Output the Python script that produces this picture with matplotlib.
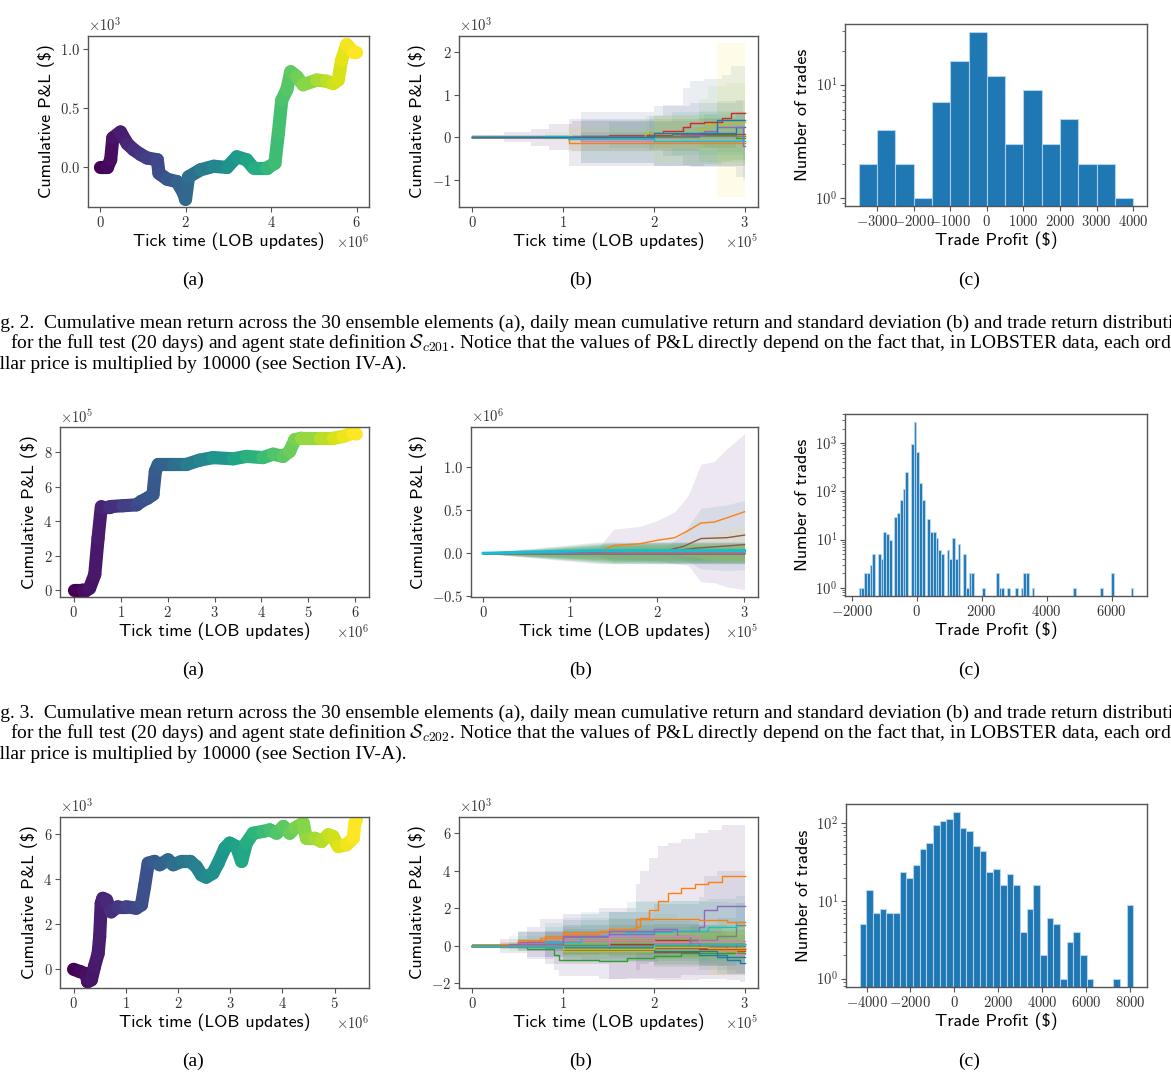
import numpy as np
import matplotlib
matplotlib.use("Agg")
from matplotlib import pyplot as plt
from matplotlib.collections import LineCollection
from matplotlib.ticker import MultipleLocator

plt.rcParams['font.family'] = 'serif'
plt.rcParams['font.serif'] = ['cmr10']
plt.rcParams['mathtext.fontset'] = 'cm'
plt.rcParams['axes.formatter.use_mathtext'] = True
plt.rcParams['axes.edgecolor'] = '#555555'
plt.rcParams['xtick.color'] = '#555555'
plt.rcParams['ytick.color'] = '#555555'
plt.rcParams['xtick.labelcolor'] = '#333333'
plt.rcParams['ytick.labelcolor'] = '#333333'
plt.rcParams['xtick.labelsize'] = 10.5
plt.rcParams['ytick.labelsize'] = 10.5

## Datos

# Fig. 2 -- S_c201
PNL1_T = [0, 0.17, 0.25, 0.3, 0.48, 0.64, 0.79, 0.95, 1.1, 1.34, 1.38, 1.57, 1.8, 1.96, 2.0, 2.07,
          2.35, 2.66, 2.97, 3.2, 3.43, 3.59, 3.9, 4.09, 4.17, 4.25, 4.37, 4.46, 4.6, 4.75, 5.07,
          5.3, 5.45, 5.57, 5.65, 5.77, 5.92, 5.99]             # x10^6
PNL1_V = [0, 0, 0.065, 0.25, 0.3, 0.2, 0.15, 0.11, 0.08, 0.065, -0.05, -0.1, -0.12, -0.22, -0.27,
          -0.08, -0.02, 0.01, 0, 0.09, 0.065, -0.005, -0.005, 0.035, 0.29, 0.57, 0.66, 0.81, 0.77,
          0.7, 0.74, 0.73, 0.71, 0.74, 0.91, 1.04, 0.98, 0.98]  # x10^3

DAY1_X = [[0, 0.35, 0.65, 0.85, 1.1, 2.5, 2.9], [0, 1.07], [0, 1.2, 2.0, 2.4, 2.9],
          [0, 1.2, 1.95, 2.1, 2.32, 2.4, 2.55, 2.75, 2.85], [0, 2.3, 2.55, 2.7, 2.98],
          [0, 1.5, 2.2], [0, 1.2, 2.0], [0, 2.5], [0, 1.9, 2.5, 2.6, 2.8],
          [0, 0.8, 1.05, 2.0], [0, 2.0, 2.7]]                   # x10^5
DAY1_MEAN = [[0, 0, 0, 0, 0.02, 0.1, 0.25], [0, -0.13], [0, 0.0, 0.02, 0.05, -0.03],
             [0, 0.03, 0.1, 0.15, 0.25, 0.33, 0.36, 0.45, 0.56], [0, 0.05, 0.15, 0.25, -0.2],
             [0, 0.05, 0.08], [0, -0.1, -0.08], [0, 0.02], [0, 0.1, 0.2, 0.3, 0.36],
             [0, 0.03, -0.05, -0.1], [0, 0.1, 0.4]]             # x10^3
DAY1_STD = [[0.05, 0.12, 0.2, 0.3, 0.35, 0.35, 0.35], [0.05, 0.55], [0.03, 0.6, 0.7, 0.75, 0.9],
            [0.03, 0.1, 0.4, 0.6, 0.9, 1.0, 1.0, 1.0, 1.1], [0.03, 0.2, 0.4, 0.6, 0.8],
            [0.02, 0.3, 0.5], [0.05, 0.5, 0.6], [0.02, 0.6], [0.02, 0.4, 0.7, 0.9, 0.9],
            [0.03, 0.1, 0.3, 0.5], [0.02, 0.4, 1.8]]

HIST1_RANGE = (-3500, 4000)
HIST1_COUNTS = [2, 4, 2, 1, 7, 16, 29, 12, 3, 9, 3, 5, 2, 2, 1]

# Fig. 3 -- S_c202
PNL2_T = [0, 0.2, 0.23, 0.34, 0.45, 0.52, 0.59, 0.77, 1.05, 1.34, 1.44, 1.58, 1.69, 1.74, 1.8,
          2.12, 2.4, 2.68, 2.97, 3.4, 3.68, 4.03, 4.25, 4.46, 4.6, 4.71, 4.85, 5.24, 5.53, 5.74,
          5.95, 6.02]                                           # x10^6
PNL2_V = [0, 0, -0.1, 0.1, 0.9, 3.0, 4.85, 4.85, 4.9, 4.95, 5.15, 5.35, 5.55, 6.9, 7.3, 7.3, 7.3,
          7.55, 7.7, 7.63, 7.77, 7.7, 7.9, 7.77, 8.06, 8.74, 8.83, 8.83, 8.83, 8.93, 9.13, 9.07]  # x10^5

DAY2_X = [[0, 1.3, 2.0], [0, 0.45, 0.8, 1.3, 1.5, 1.8, 2.0, 2.2, 2.35, 2.5, 2.65, 2.8, 3.0],
          [0, 1.3], [0, 1.5], [0, 2.0], [0, 2.1, 2.3, 2.5, 2.8, 3.0], [0, 1.5], [0, 1.5],
          [0, 1.5], [0, 1.3], [0, 1.5], [0, 1.5], [0, 1.5], [0, 1.5], [0, 1.5],
          [0, 2.2, 2.45, 2.6, 3.0]]                             # x10^5
DAY2_MEAN = [[0, 0, -0.01], [0, 0.02, 0.0, 0.01, 0.09, 0.11, 0.15, 0.18, 0.26, 0.35, 0.36, 0.41, 0.48],
             [0, 0], [0, 0], [0, 0.01], [0, 0.03, 0.08, 0.17, 0.18, 0.21], [0, 0], [0, -0.01],
             [0, 0], [0, 0.03], [0, 0], [0, 0.01], [0, 0], [0, 0], [0, 0],
             [0, 0.03, 0.06, 0.07, 0.1]]                        # x10^6
DAY2_STD = [[0.005, 0.05, 0.08], [0.002, 0.03, 0.02, 0.03, 0.19, 0.2, 0.23, 0.3, 0.4, 0.68, 0.7, 0.8, 0.9],
            [0.002, 0.12], [0.002, 0.08], [0.005, 0.12], [0.005, 0.05, 0.15, 0.35, 0.38, 0.4],
            [0.002, 0.1], [0.002, 0.1], [0.002, 0.12], [0.002, 0.1], [0.002, 0.12], [0.002, 0.1],
            [0.002, 0.1], [0.002, 0.08], [0.002, 0.1], [0.005, 0.05, 0.1, 0.15, 0.2]]
DAY2_GRUESA = 9   # la linea cian va encima y mas gruesa

HIST2_RANGE = (-1780, 6670)
HIST2_COUNTS = [1, 1, 2, 2, 3, 5, 0, 5, 4, 14,
                13, 10, 0, 30, 35, 66, 113, 256, 0, 970,
                2700, 640, 147, 65, 0, 27, 14, 14, 11, 6,
                5, 0, 6, 4, 11, 4, 8, 0, 5, 1,
                2, 2, 0, 0, 0, 1, 0, 0, 0, 0,
                2, 1, 1, 0, 1, 0, 0, 1, 0, 1,
                2, 2, 0, 1, 0, 0, 0, 0, 0, 0,
                0, 0, 0, 0, 0, 0, 0, 0, 1, 0,
                0, 0, 0, 0, 0, 0, 0, 0, 1, 0,
                0, 0, 2, 0, 0, 0, 0, 0, 0, 1]

# tercera fila
PNL3_T = [0, 0.12, 0.24, 0.27, 0.34, 0.4, 0.47, 0.5, 0.53, 0.56, 0.63, 0.72, 0.85, 1.01, 1.2, 1.3,
          1.36, 1.43, 1.55, 1.65, 1.81, 1.91, 2.07, 2.23, 2.35, 2.45, 2.54, 2.67, 2.77, 2.9, 2.99,
          3.12, 3.22, 3.31, 3.44, 3.63, 3.76, 3.89, 4.02, 4.14, 4.24, 4.4, 4.46, 4.62, 4.75, 4.88,
          4.97, 5.07, 5.23, 5.36, 5.39, 5.42]                   # x10^6
PNL3_V = [0, -0.1, -0.2, -0.55, -0.47, 0.12, 0.7, 1.45, 2.93, 3.15, 3.08, 2.55, 2.78, 2.78, 2.71,
          2.86, 3.67, 4.71, 4.79, 4.64, 4.86, 4.64, 4.79, 4.79, 4.56, 4.19, 4.09, 4.27, 4.71, 5.38,
          5.6, 5.45, 4.79, 5.6, 6.04, 6.12, 6.19, 6.04, 6.34, 6.04, 6.27, 6.49, 5.82, 5.82, 5.67,
          5.97, 5.9, 5.45, 5.53, 5.82, 6.49, 6.64]              # x10^3

DAY3_X = [[0, 0.8, 1.5, 2.0, 2.5, 2.8, 2.95],
          [0, 0.3, 0.6, 0.75, 1.0, 1.4, 1.8, 1.85, 1.95, 2.05, 2.15, 2.3, 2.45, 2.6, 2.75],
          [0, 0.3, 0.6, 0.9, 0.95, 1.4, 1.7, 2.0, 2.3], [0, 0.5, 1.0, 2.0, 2.5, 2.8],
          [0, 0.5, 1.0, 1.5, 2.0, 2.5, 2.55, 2.7], [0, 1.0, 2.0, 2.5, 2.9], [0, 1.0, 2.0, 2.5, 2.9],
          [0, 1.5, 2.4, 2.7, 2.9], [0, 1.0, 2.0], [0, 0.8, 1.2, 1.7, 2.2, 2.6, 2.9],
          [0, 1.0, 2.0, 2.7], [0, 0.5, 0.8, 1.0, 1.5, 1.8, 2.5, 2.8], [0, 1.0, 2.0, 2.4],
          [0, 1.5, 2.5], [0, 0.4, 1.0, 1.5, 2.0, 2.25, 2.4], [0, 1.0, 2.0], [0, 1.5, 2.5],
          [0, 1.0, 2.0], [0, 1.0, 2.0, 2.6], [0, 1.0, 2.0]]     # x10^5
DAY3_MEAN = [[0, -0.1, -0.2, -0.35, -0.5, -0.75, -0.95],
             [0, 0.1, 0.2, 0.4, 0.6, 0.8, 1.0, 1.5, 1.9, 2.4, 2.8, 3.1, 3.3, 3.4, 3.7],
             [0, -0.1, -0.2, -0.5, -0.75, -0.8, -0.65, -0.55, -0.4], [0, 0.2, 0.3, 0.3, 0.0, -0.3],
             [0, 0.2, 0.45, 0.6, 0.8, 1.0, 1.9, 2.1], [0, -0.25, -0.35, -0.2, 0.1],
             [0, 0.3, 0.2, -0.3, -0.45], [0, 0.0, 0.3, 0.5, 1.1], [0, -0.3, -0.25],
             [0, 0.2, 0.5, 0.75, 0.8, 1.0, 1.25], [0, -0.2, -0.3, -0.6],
             [0, 0.3, 0.5, 0.7, 0.9, 1.4, 1.35, 1.25], [0, 0.05, 0.0, 0.1], [0, 0.1, -0.2],
             [0, 0.1, 0.5, 0.8, 0.9, 0.5, 0.1], [0, -0.1, -0.15], [0, 0.5, 0.25],
             [0, -0.05, 0.0], [0, -0.2, -0.1, -0.15], [0, 0.0, 0.1]]  # x10^3
DAY3_STD = [[0.1, 0.9, 1.6, 1.5, 1.3, 1.1, 1.0],
            [0.1, 0.25, 0.8, 1.0, 1.1, 1.2, 2.3, 2.5, 2.8, 2.9, 2.7, 2.6, 2.7, 2.8, 2.75],
            [0.1, 0.3, 0.5, 0.8, 0.9, 1.0, 1.1, 1.2, 1.2], [0.1, 0.5, 0.8, 1.0, 1.1, 1.2],
            [0.1, 0.5, 0.9, 1.2, 1.4, 1.6, 1.8, 1.9], [0.1, 0.6, 0.8, 0.9, 1.0],
            [0.1, 0.6, 0.8, 1.0, 1.0], [0.1, 0.5, 0.8, 1.0, 1.2], [0.1, 0.6, 0.8],
            [0.1, 0.8, 1.3, 1.6, 1.6, 1.5, 1.4], [0.1, 0.5, 0.7, 0.9],
            [0.1, 0.5, 0.7, 0.8, 0.9, 1.0, 1.0, 1.0], [0.1, 0.5, 0.7, 0.8], [0.1, 0.5, 0.6],
            [0.1, 0.4, 0.6, 0.7, 0.8, 0.9, 1.0], [0.1, 0.4, 0.5], [0.1, 0.6, 0.8],
            [0.1, 0.5, 0.7], [0.1, 0.6, 1.0, 1.4], [0.1, 0.4, 0.6]]

HIST3_RANGE = (-4312, 8152)
HIST3_COUNTS = [5, 14, 7, 8, 7, 7, 24, 20, 29, 47, 56, 95, 106, 115, 139, 87, 80, 51, 44, 24, 26,
                16, 22, 16, 4, 8, 16, 2, 6, 5, 1, 3, 4, 2, 1, 0, 0, 0, 1, 0, 9]

CAPTION_2 = ["Fig. 2.  Cumulative mean return across the 30 ensemble elements (a), daily mean cumulative return and standard deviation (b) and trade return distribution",
             "for the full test (20 days) and agent state definition $\\mathcal{S}_{c201}$. Notice that the values of P&L directly depend on the fact that, in LOBSTER data, each order",
             "dollar price is multiplied by 10000 (see Section IV-A)."]
CAPTION_3 = ["Fig. 3.  Cumulative mean return across the 30 ensemble elements (a), daily mean cumulative return and standard deviation (b) and trade return distribution",
             "for the full test (20 days) and agent state definition $\\mathcal{S}_{c202}$. Notice that the values of P&L directly depend on the fact that, in LOBSTER data, each order",
             "dollar price is multiplied by 10000 (see Section IV-A)."]
CORTE = ["Fi", "", "do"]   # lo que queda fuera de la pagina

W, H = 1171, 1086
LABEL_FONT = 'cmss10'
CAP_FONT = 'Liberation Serif'
CAP_SIZE = 14


def caja(x0, y0, x1, y1):
    return [x0 / W, 1 - y1 / H, (x1 - x0) / W, (y1 - y0) / H]


def estilo(ax, sci=True):
    ax.tick_params(length=3.5, width=0.8, pad=2)
    for s in ax.spines.values():
        s.set_linewidth(1.0)
    if sci:
        ax.ticklabel_format(style='sci', axis='both', scilimits=(0, 0), useMathText=True)
        for t in (ax.yaxis.get_offset_text(), ax.xaxis.get_offset_text()):
            t.set_fontsize(10.5)
            t.set_color('#333333')


def etiquetas(ax, xl, yl):
    ax.set_xlabel(xl, fontfamily=LABEL_FONT, fontsize=13, labelpad=2)
    ax.set_ylabel(yl, fontfamily=LABEL_FONT, fontsize=13, labelpad=4)


def pnl(ax, t, v, xlim, ylim, sx, sy):
    t = np.array(t) * sx
    v = np.array(v) * sy
    pts = np.column_stack([t, v]).reshape(-1, 1, 2)
    segs = np.concatenate([pts[:-1], pts[1:]], axis=1)
    lc = LineCollection(segs, cmap='viridis', linewidths=9.5, capstyle='round', joinstyle='round')
    lc.set_array((t[:-1] + t[1:]) / 2)
    ax.add_collection(lc)
    ax.set_xlim(xlim[0] * sx, xlim[1] * sx)
    ax.set_ylim(ylim[0] * sy, ylim[1] * sy)
    estilo(ax)
    etiquetas(ax, 'Tick time (LOB updates)', 'Cumulative P&L ($)')


def dias(ax, xs, means, stds, xlim, ylim, sx, sy, escalon=True, gruesa=None):
    n = len(means)
    cmap = plt.get_cmap('viridis')
    series = []
    for i in range(n):
        x = np.append(xs[i], 3.0) * sx
        m = np.append(means[i], means[i][-1]) * sy
        s = np.append(stds[i], stds[i][-1]) * sy
        series.append((x, m, s))
        ax.fill_between(x, m - s, m + s, step='post' if escalon else None,
                        color=cmap(i / (n - 1)), alpha=0.1, lw=0)
    for i, (x, m, s) in enumerate(series):
        lw, z = (2.2, 3) if i == gruesa else (1, 2)
        if escalon:
            ax.step(x, m, where='post', color=f'C{i % 10}', lw=lw, zorder=z)
        else:
            ax.plot(x, m, color=f'C{i % 10}', lw=lw, zorder=z)
    ax.set_xlim(xlim[0] * sx, xlim[1] * sx)
    ax.set_ylim(ylim[0] * sy, ylim[1] * sy)
    estilo(ax)
    etiquetas(ax, 'Tick time (LOB updates)', 'Cumulative P&L ($)')


def histo(ax, rango, cuentas, paso):
    bordes = np.linspace(rango[0], rango[1], len(cuentas) + 1)
    centros = (bordes[:-1] + bordes[1:]) / 2
    ax.hist(centros, bins=bordes, weights=cuentas, log=True, color='C0',
            edgecolor=(0.75, 0.85, 0.95, 0.8), linewidth=0.8)
    ax.xaxis.set_major_locator(MultipleLocator(paso))
    estilo(ax, sci=False)
    etiquetas(ax, 'Trade Profit ($)', 'Number of trades')


fig = plt.figure(figsize=(W / 100, H / 100), dpi=100)

# Fila 1
ax = fig.add_axes(caja(88, 36, 369, 207))
pnl(ax, PNL1_T, PNL1_V, (-0.28, 6.29), (-0.335, 1.113), 1e6, 1e3)
ax = fig.add_axes(caja(459, 36, 758, 207))
dias(ax, DAY1_X, DAY1_MEAN, DAY1_STD, (-0.147, 3.147), (-1.64, 2.375), 1e5, 1e3)
ax = fig.add_axes(caja(845, 24, 1147, 206))
histo(ax, HIST1_RANGE, HIST1_COUNTS, 1000)

# Fila 2
ax = fig.add_axes(caja(60, 427, 369, 597))
pnl(ax, PNL2_T, PNL2_V, (-0.29, 6.29), (-0.41, 9.48), 1e6, 1e5)
ax = fig.add_axes(caja(471, 427, 758, 597))
dias(ax, DAY2_X, DAY2_MEAN, DAY2_STD, (-0.14, 3.155), (-0.506, 1.46), 1e5, 1e6,
     escalon=False, gruesa=DAY2_GRUESA)
ax = fig.add_axes(caja(845, 414, 1147, 596))
histo(ax, HIST2_RANGE, HIST2_COUNTS, 2000)

# Fila 3
ax = fig.add_axes(caja(60, 817, 369, 988))
pnl(ax, PNL3_T, PNL3_V, (-0.26, 5.66), (-0.83, 6.76), 1e6, 1e3)
ax = fig.add_axes(caja(459, 817, 758, 988))
dias(ax, DAY3_X, DAY3_MEAN, DAY3_STD, (-0.147, 3.147), (-2.27, 6.875), 1e5, 1e3)
ax = fig.add_axes(caja(846, 804, 1147, 987))
histo(ax, HIST3_RANGE, HIST3_COUNTS, 2000)

# (a) (b) (c)
for yy in [280, 670, 1061]:
    for xx, lab in zip([193, 581, 969], ['(a)', '(b)', '(c)']):
        fig.text(xx / W, 1 - yy / H, lab, fontfamily=CAP_FONT, fontsize=CAP_SIZE,
                 ha='center', va='center')

# Pies de figura
renderer = fig.canvas.get_renderer()
for y0, lineas in [(323, CAPTION_2), (713, CAPTION_3)]:
    for k, (texto, corte) in enumerate(zip(lineas, CORTE)):
        x0 = 10 if k == 1 else 0
        if corte:
            tmp = fig.text(0, 0, corte, fontfamily=CAP_FONT, fontsize=CAP_SIZE)
            x0 -= tmp.get_window_extent(renderer).width
            tmp.remove()
        fig.text(x0 / W, 1 - (y0 + 20.5 * k) / H, texto, fontfamily=CAP_FONT, fontsize=CAP_SIZE,
                 ha='left', va='center')

fig.savefig('out.png', dpi=100)
